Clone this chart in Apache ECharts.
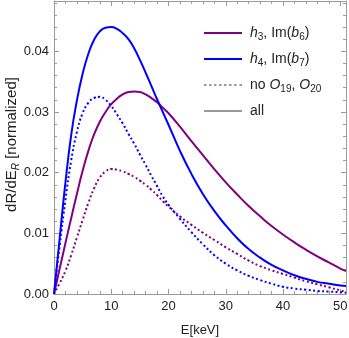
<!DOCTYPE html>
<html>
<head>
<meta charset="utf-8">
<script src="https://cdn.jsdelivr.net/npm/echarts@6/dist/echarts.min.js"></script>
<style>
  html, body { margin: 0; padding: 0; background: #fff; }
  #chart { width: 349px; height: 338px; }
</style>
</head>
<body>
<div id="chart"></div>
<script>
// recoil energy grid [keV]
const energy = [0, 1, 2, 3, 4, 5, 6, 7, 8, 9, 10, 11, 12, 13, 14, 15, 16, 17, 18, 19, 20, 22, 24, 26, 28, 30, 32, 34, 36, 38, 40, 42, 44, 46, 48, 50, 51];

// h3, Im(b6) - all operators
const h3All = [0, 0.0042, 0.0084, 0.0125, 0.0165, 0.0203, 0.0236, 0.0263, 0.0284, 0.0300, 0.0313, 0.0322, 0.0329, 0.0333, 0.0334, 0.0333, 0.0329, 0.0323, 0.0316, 0.0307, 0.0298, 0.0276, 0.0252, 0.0229, 0.0206, 0.0184, 0.0164, 0.0145, 0.0128, 0.0112, 0.0098, 0.0085, 0.0073, 0.0062, 0.0052, 0.0042, 0.0038];
// h4, Im(b7) - all operators
const h4All = [0, 0.0093, 0.0184, 0.0262, 0.0319, 0.0363, 0.0396, 0.0419, 0.0433, 0.0439, 0.0440, 0.0437, 0.0430, 0.0420, 0.0405, 0.0386, 0.0365, 0.0343, 0.0321, 0.0300, 0.0279, 0.0236, 0.0198, 0.0165, 0.0137, 0.0113, 0.0092, 0.0074, 0.0060, 0.0048, 0.0039, 0.0031, 0.0025, 0.0020, 0.0017, 0.0014, 0.0013];
// h3, Im(b6) - no O19, O20
const h3No = [0, 0.0018, 0.0038, 0.0064, 0.0093, 0.0122, 0.0150, 0.0174, 0.0192, 0.0202, 0.0206, 0.0205, 0.0202, 0.0198, 0.0193, 0.0187, 0.0180, 0.0172, 0.0163, 0.0153, 0.0144, 0.0128, 0.0114, 0.0101, 0.0089, 0.0077, 0.0066, 0.0055, 0.0046, 0.0039, 0.0033, 0.0027, 0.0021, 0.0016, 0.0011, 0.0006, 0.0004];
// h4, Im(b7) - no O19, O20
const h4No = [0, 0.0080, 0.0155, 0.0220, 0.0267, 0.0298, 0.0315, 0.0323, 0.0325, 0.0320, 0.0310, 0.0296, 0.0281, 0.0264, 0.0248, 0.0230, 0.0213, 0.0195, 0.0178, 0.0161, 0.0147, 0.0124, 0.0102, 0.0082, 0.0064, 0.0050, 0.0039, 0.0030, 0.0023, 0.0017, 0.0012, 0.0009, 0.0007, 0.0005, 0.0004, 0.0003, 0.0002];

const xTicks = [0, 10, 20, 30, 40, 50];
const yTicks = [0, 0.01, 0.02, 0.03, 0.04];

const pairs = ys => energy.map((e, i) => [e, ys[i]]);

const FONT = 'Liberation Sans';
const PURPLE = '#800080';
const BLUE = '#0000ff';
const GRAY = '#999999';
const FRAME = '#9a9a9a';
const TEXT = '#222';

const legendText = {
  h3: '{i|h}{s|3}{n|, Im(}{i|b}{s|6}{n|)}',
  h4: '{i|h}{s|4}{n|, Im(}{i|b}{s|7}{n|)}',
  no: '{n|no }{i|O}{s|19}{n|, }{i|O}{s|20}',
  all: '{n|all}'
};

const rich = {
  n: { fontSize: 14, fontFamily: FONT, color: TEXT, lineHeight: 18 },
  i: { fontSize: 14, fontFamily: FONT, color: TEXT, fontStyle: 'italic', lineHeight: 18 },
  s: { fontSize: 10, fontFamily: FONT, color: TEXT, lineHeight: 18, verticalAlign: 'bottom' }
};

// legend icons: thin bar for solid, row of short dashes for dotted
const solidIcon = 'path://M0,0H38V2H0Z';
const dottedIcon = 'path://M0,0h2.5v2h-2.5z M5,0h2.5v2h-2.5z M10,0h2.5v2h-2.5z M15,0h2.5v2h-2.5z M20,0h2.5v2h-2.5z M25,0h2.5v2h-2.5z M30,0h2.5v2h-2.5z M35.5,0h2.5v2h-2.5z';

function axisCommon (min, max, interval) {
  return {
    type: 'value',
    min: min,
    max: max,
    interval: interval,
    splitLine: { show: false },
    axisLine: { show: true, onZero: false, lineStyle: { color: FRAME, width: 1 } },
    axisTick: { show: true, inside: true, length: 5, lineStyle: { color: FRAME } },
    minorTick: { show: true, splitNumber: 5, length: 3, lineStyle: { color: FRAME } },
    minorSplitLine: { show: false }
  };
}

const chart = echarts.init(document.getElementById('chart'), null, { renderer: 'canvas' });

chart.setOption({
  animation: false,
  backgroundColor: '#fff',
  grid: { left: 54, right: 3, top: 1, bottom: 44, outerBoundsMode: 'none', containLabel: false },
  legend: {
    data: [
      { name: 'h3', icon: solidIcon },
      { name: 'h4', icon: solidIcon },
      { name: 'no', icon: dottedIcon },
      { name: 'all', icon: solidIcon }
    ],
    orient: 'vertical',
    left: 199,
    top: 21,
    itemWidth: 38,
    itemHeight: 2,
    symbolKeepAspect: false,
    itemGap: 10,
    formatter: name => legendText[name],
    textStyle: { rich: rich, padding: [0, 0, 0, 3] }
  },
  xAxis: [
    Object.assign(axisCommon(0, 51, 10), {
      name: 'E[keV]',
      nameLocation: 'middle',
      nameGap: 30,
      nameMoveOverlap: false,
      nameTextStyle: { fontSize: 13, fontFamily: FONT, color: TEXT },
      axisLabel: {
        fontSize: 13, fontFamily: FONT, color: TEXT, margin: 6,
        showMaxLabel: false,
        formatter: v => (xTicks.indexOf(v) >= 0 ? String(v) : '')
      }
    }),
    Object.assign(axisCommon(0, 51, 10), {
      position: 'top',
      axisLabel: { show: false }
    })
  ],
  yAxis: [
    Object.assign(axisCommon(0, 0.0483, 0.01), {
      name: '{n|dR/dE}{is|R}{n| [normalized]}',
      nameLocation: 'middle',
      nameGap: 33,
      nameMoveOverlap: false,
      nameTextStyle: {
        padding: [0, 0, 0, 6],
        rich: {
          n: { fontSize: 15, fontFamily: FONT, color: TEXT, lineHeight: 19 },
          is: { fontSize: 10, fontFamily: FONT, color: TEXT, fontStyle: 'italic', lineHeight: 19, verticalAlign: 'bottom' }
        }
      },
      axisLabel: {
        fontSize: 13, fontFamily: FONT, color: TEXT, margin: 5,
        showMaxLabel: false,
        formatter: v => (yTicks.some(t => Math.abs(t - v) < 1e-9) ? v.toFixed(2) : '')
      }
    }),
    Object.assign(axisCommon(0, 0.0483, 0.01), {
      position: 'right',
      axisLabel: { show: false }
    })
  ],
  series: [
    {
      name: 'h3', type: 'line', smooth: true, symbol: 'none',
      color: PURPLE, lineStyle: { color: PURPLE, width: 2 },
      itemStyle: { color: PURPLE },
      data: pairs(h3All)
    },
    {
      name: 'h4', type: 'line', smooth: true, symbol: 'none',
      color: BLUE, lineStyle: { color: BLUE, width: 2 },
      itemStyle: { color: BLUE },
      data: pairs(h4All)
    },
    {
      name: 'h3 no O19,O20', type: 'line', smooth: true, symbol: 'none',
      color: PURPLE, lineStyle: { color: PURPLE, width: 2, type: [2, 2.5] },
      data: pairs(h3No)
    },
    {
      name: 'h4 no O19,O20', type: 'line', smooth: true, symbol: 'none',
      color: BLUE, lineStyle: { color: BLUE, width: 2, type: [2, 2.5] },
      data: pairs(h4No)
    },
    {
      name: 'no', type: 'line', symbol: 'none',
      color: GRAY, itemStyle: { color: GRAY },
      data: []
    },
    {
      name: 'all', type: 'line', symbol: 'none',
      color: GRAY, itemStyle: { color: GRAY },
      data: []
    }
  ]
});
</script>
</body>
</html>
